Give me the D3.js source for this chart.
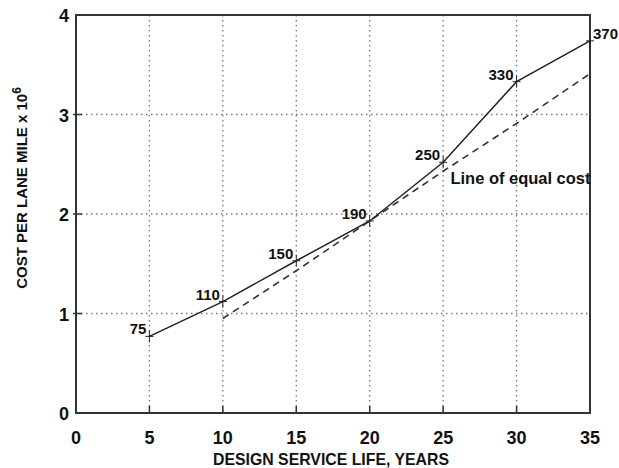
<!DOCTYPE html>
<html>
<head>
<meta charset="utf-8">
<script src="https://cdn.jsdelivr.net/npm/d3@7"></script>
<style>
  body { margin: 0; background: #fff; }
  text { font-family: "Liberation Sans", Arial, sans-serif; font-weight: bold; fill: #111; }
</style>
</head>
<body>
<div id="chart"></div>
<script>
// design life (years) and cost per lane mile (x 10^6)
var years = [5, 10, 15, 20, 25, 30, 35];
var costs = [0.77, 1.12, 1.53, 1.93, 2.52, 3.33, 3.74];
var costLabels = ["75", "110", "150", "190", "250", "330", "370"];
// line of equal cost (dashed)
var equalYears = [10, 15, 20, 25, 30, 35];
var equalCosts = [0.95, 1.43, 1.93, 2.43, 2.91, 3.41];
var xTicks = [0, 5, 10, 15, 20, 25, 30, 35];
var yTicks = [0, 1, 2, 3, 4];

var width = 619, height = 468;
var margin = {top: 15, right: 29, bottom: 55, left: 76};

var svg = d3.select("#chart").append("svg")
  .attr("width", width)
  .attr("height", height);

var x = d3.scaleLinear().domain([0, 35]).range([margin.left, width - margin.right]);
var y = d3.scaleLinear().domain([0, 4]).range([height - margin.bottom, margin.top]);

// grid - dotted
svg.append("g")
  .selectAll("line")
  .data(xTicks.filter(function (d) { return d > 0 && d < 35; }))
  .enter().append("line")
  .attr("x1", function (d) { return x(d); })
  .attr("x2", function (d) { return x(d); })
  .attr("y1", y(4))
  .attr("y2", y(0))
  .attr("stroke", "#777")
  .attr("stroke-width", 1.3)
  .attr("stroke-dasharray", "1.5,3.5");

svg.append("g")
  .selectAll("line")
  .data(yTicks.filter(function (d) { return d > 0 && d < 4; }))
  .enter().append("line")
  .attr("x1", x(0))
  .attr("x2", x(35))
  .attr("y1", function (d) { return y(d); })
  .attr("y2", function (d) { return y(d); })
  .attr("stroke", "#777")
  .attr("stroke-width", 1.3)
  .attr("stroke-dasharray", "1.5,3.5");

// small tick marks
svg.append("g")
  .selectAll("line")
  .data(xTicks.filter(function (d) { return d > 0 && d < 35; }))
  .enter().append("line")
  .attr("x1", function (d) { return x(d); })
  .attr("x2", function (d) { return x(d); })
  .attr("y1", y(0))
  .attr("y2", y(0) - 7)
  .attr("stroke", "#333")
  .attr("stroke-width", 1.5);

svg.append("g")
  .selectAll("line")
  .data(yTicks.filter(function (d) { return d > 0 && d < 4; }))
  .enter().append("line")
  .attr("x1", x(0) - 3)
  .attr("x2", x(0) + 6)
  .attr("y1", function (d) { return y(d); })
  .attr("y2", function (d) { return y(d); })
  .attr("stroke", "#333")
  .attr("stroke-width", 1.5);

// frame
svg.append("rect")
  .attr("x", x(0))
  .attr("y", y(4))
  .attr("width", x(35) - x(0))
  .attr("height", y(0) - y(4))
  .attr("fill", "none")
  .attr("stroke", "#333")
  .attr("stroke-width", 2);

// tick labels
svg.append("g")
  .selectAll("text")
  .data(xTicks)
  .enter().append("text")
  .attr("x", function (d) { return x(d); })
  .attr("y", y(0) + 31)
  .attr("text-anchor", "middle")
  .style("font-size", "18px")
  .text(function (d) { return d; });

svg.append("g")
  .selectAll("text")
  .data(yTicks)
  .enter().append("text")
  .attr("x", x(0) - 7)
  .attr("y", function (d) { return y(d) + 7; })
  .attr("text-anchor", "end")
  .style("font-size", "18px")
  .text(function (d) { return d; });

// equal cost line
var pts = equalYears.map(function (d, i) { return [d, equalCosts[i]]; });
svg.append("path")
  .datum(pts)
  .attr("d", d3.line().x(function (d) { return x(d[0]); }).y(function (d) { return y(d[1]); }))
  .attr("fill", "none")
  .attr("stroke", "#333")
  .attr("stroke-width", 1.6)
  .attr("stroke-dasharray", "7,5");

// cost line
var costPts = years.map(function (d, i) { return [d, costs[i]]; });
svg.append("path")
  .datum(costPts)
  .attr("d", d3.line().x(function (d) { return x(d[0]); }).y(function (d) { return y(d[1]); }))
  .attr("fill", "none")
  .attr("stroke", "#222")
  .attr("stroke-width", 1.5);

// + markers
var marks = svg.append("g").selectAll("g")
  .data(costPts)
  .enter().append("g")
  .attr("transform", function (d) { return "translate(" + x(d[0]) + "," + y(d[1]) + ")"; });
marks.append("line").attr("x1", -4).attr("x2", 4).attr("stroke", "#222").attr("stroke-width", 1);
marks.append("line").attr("y1", -6).attr("y2", 6).attr("stroke", "#222").attr("stroke-width", 1);

// point labels
svg.append("g")
  .selectAll("text")
  .data(costPts)
  .enter().append("text")
  .attr("x", function (d, i) { return i == costPts.length - 1 ? x(d[0]) + 3 : x(d[0]) - 3; })
  .attr("y", function (d, i) { return y(d[1]) - 2; })
  .attr("text-anchor", function (d, i) { return i == costPts.length - 1 ? "start" : "end"; })
  .style("font-size", "15px")
  .text(function (d, i) { return costLabels[i]; });

svg.append("text")
  .attr("x", x(25.5))
  .attr("y", y(2.3))
  .style("font-size", "16px")
  .attr("textLength", 140)
  .attr("lengthAdjust", "spacingAndGlyphs")
  .text("Line of equal cost");

// axis titles
svg.append("text")
  .attr("x", (x(0) + x(35)) / 2 - 2)
  .attr("y", height - 3)
  .attr("text-anchor", "middle")
  .style("font-size", "16.5px")
  .attr("textLength", 236)
  .attr("lengthAdjust", "spacingAndGlyphs")
  .text("DESIGN SERVICE LIFE, YEARS");

var yt = svg.append("text")
  .attr("transform", "translate(27,188) rotate(-90)")
  .attr("text-anchor", "middle")
  .style("font-size", "15px");
yt.append("tspan").text("COST PER LANE MILE x 10");
yt.append("tspan").attr("dy", -6).style("font-size", "12px").text("6");
</script>
</body>
</html>
